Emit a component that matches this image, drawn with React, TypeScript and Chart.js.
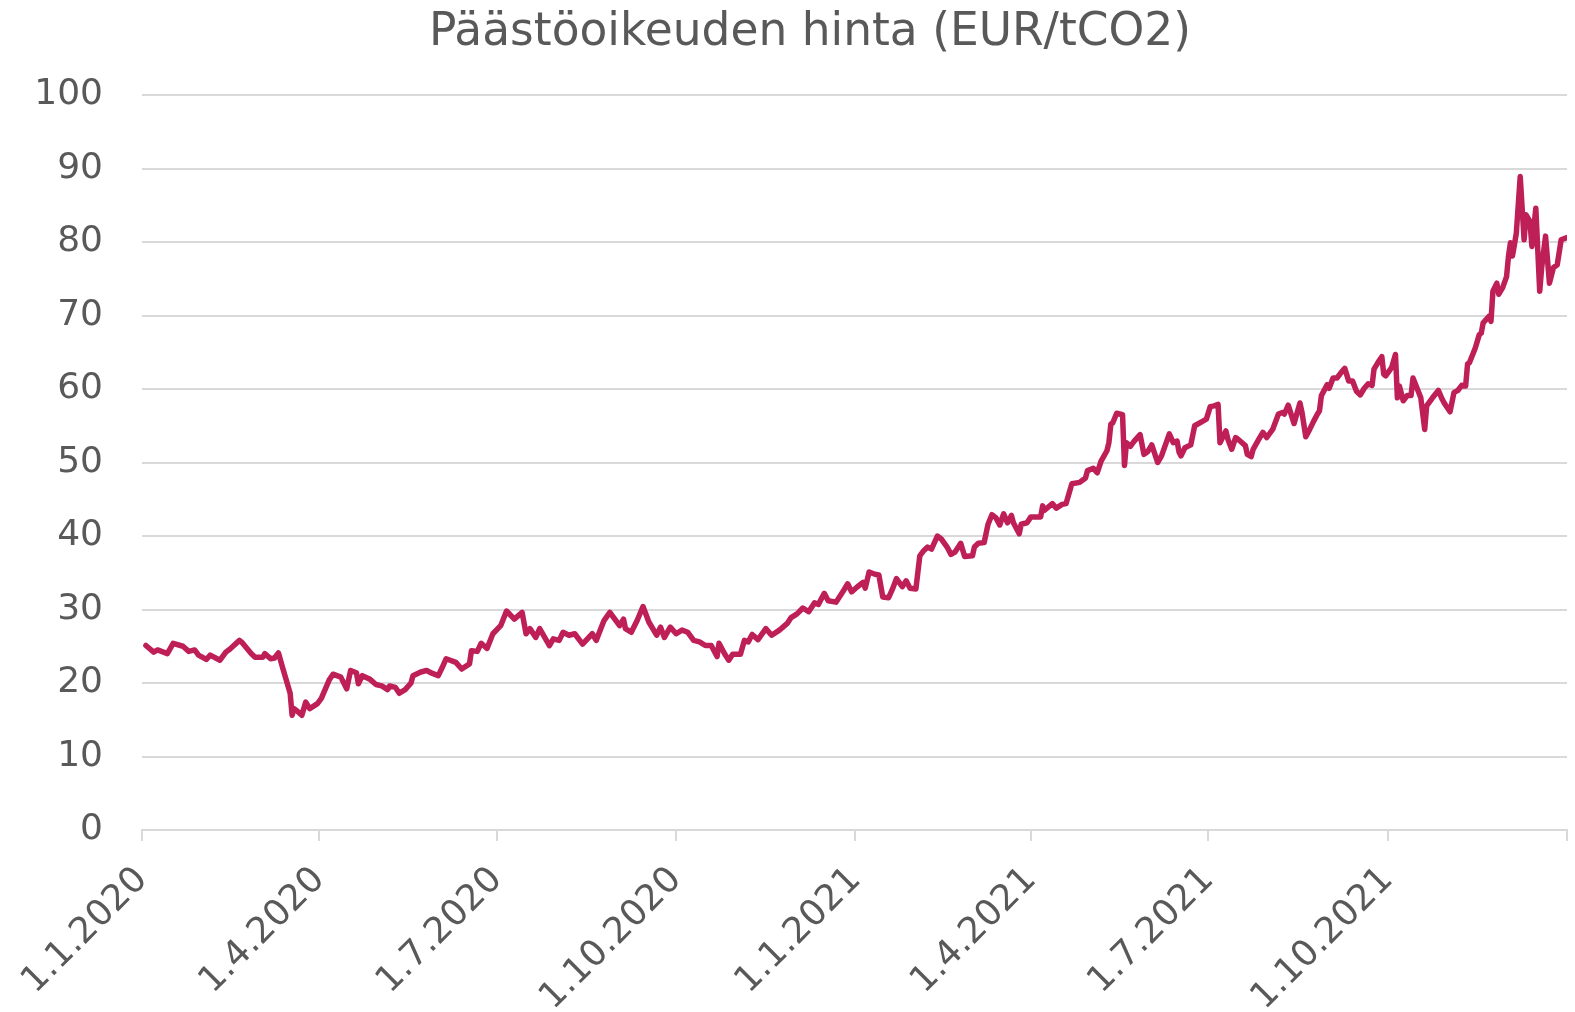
import React, { useEffect, useRef } from "react";
import { Chart, registerables } from "chart.js";

Chart.register(...registerables);

const chartTitle = "Päästöoikeuden hinta (EUR/tCO2)";

// days since 1.1.2020
const dayOffsets = [
  2, 6, 8, 13, 16, 21, 24, 27, 29, 33, 35, 40, 43, 45, 50, 51, 56, 58, 62, 63, 66, 68, 70, 72, 74, 76, 77, 78, 80, 82,
  84, 86, 90, 92, 96, 98, 102, 105, 107, 110, 111, 113, 117, 120, 123, 126, 127, 130, 132, 135, 138, 139, 143, 146, 149,
  152, 154, 156, 161, 164, 168, 169, 172, 174, 177, 180, 184, 187, 191, 195, 197, 199, 202, 204, 209, 211, 214, 216, 219,
  222, 226, 231, 233, 237, 240, 245, 247, 248, 251, 254, 257, 260, 264, 266, 268, 271, 274, 277, 280, 283, 286, 289, 292,
  295, 296, 299, 301, 303, 307, 309, 311, 313, 316, 320, 323, 327, 331, 333, 336, 339, 342, 345, 347, 350, 352, 356, 359,
  362, 364, 367, 370, 371, 373, 376, 378, 380, 383, 385, 387, 390, 392, 394, 397, 399, 401, 403, 405, 408, 410, 413, 415,
  417, 420, 422, 426, 427, 429, 432, 434, 436, 438, 440, 442, 444, 446, 447, 450, 451, 454, 456, 461, 462, 463, 467, 469,
  472, 474, 477, 481, 484, 485, 488, 490, 492, 495, 496, 497, 498, 500, 503, 504, 505, 507, 509, 512, 514, 516, 518, 521,
  523, 527, 529, 531, 532, 533, 535, 538, 540, 544, 546, 548, 550, 552, 553, 556, 557, 559, 561, 563, 566, 567, 569, 570,
  573, 575, 577, 580, 583, 585, 586, 588, 591, 594, 595, 597, 599, 601, 603, 604, 605, 608, 609, 611, 613, 615, 617, 619,
  621, 623, 625, 627, 629, 631, 632, 634, 636, 637, 638, 641, 643, 644, 645, 647, 649, 651, 652, 655, 656, 658, 659, 662,
  665, 667, 668, 671, 673, 675, 677, 679, 680, 681, 684, 686, 687, 688, 691, 692, 693, 695, 696, 698, 700, 701, 702, 703,
  704, 705, 707, 709, 710, 712, 713, 715, 717, 718, 720, 722, 724, 726, 728, 731,
];

const prices = [
  25.1, 24.2, 24.5, 24.0, 25.4, 25.0, 24.3, 24.5, 23.8, 23.2, 23.8, 23.1, 24.2, 24.6, 25.8, 25.6, 24.0, 23.5, 23.5, 24.0,
  23.3, 23.4, 24.1, 22.2, 20.4, 18.6, 15.6, 16.5, 16.1, 15.6, 17.4, 16.5, 17.2, 17.9, 20.4, 21.2, 20.8, 19.2, 21.7, 21.4,
  19.9, 21.0, 20.5, 19.8, 19.6, 19.1, 19.6, 19.4, 18.6, 19.1, 20.0, 21.0, 21.5, 21.7, 21.3, 21.0, 22.1, 23.3, 22.8, 21.9,
  22.6, 24.4, 24.3, 25.4, 24.7, 26.7, 27.8, 29.8, 28.7, 29.6, 26.7, 27.4, 26.2, 27.4, 25.1, 26.0, 25.8, 26.9, 26.5, 26.7,
  25.3, 26.7, 25.8, 28.5, 29.6, 27.8, 28.7, 27.4, 26.9, 28.5, 30.4, 28.3, 26.5, 27.6, 26.2, 27.6, 26.7, 27.2, 26.9, 25.8,
  25.6, 25.1, 25.1, 23.6, 25.4, 23.9, 23.1, 23.9, 23.9, 25.8, 25.6, 26.6, 25.9, 27.4, 26.5, 27.2, 28.1, 28.9, 29.4, 30.2,
  29.7, 30.9, 30.7, 32.2, 31.2, 31.0, 32.2, 33.5, 32.4, 33.1, 33.7, 32.9, 35.1, 34.8, 34.7, 31.7, 31.6, 32.8, 34.2, 33.1,
  33.9, 32.9, 32.8, 37.3, 38.0, 38.5, 38.2, 40.0, 39.6, 38.5, 37.5, 37.8, 39.0, 37.2, 37.3, 38.5, 39.0, 39.1, 41.6, 42.9,
  42.5, 41.5, 43.0, 41.8, 42.8, 41.8, 40.3, 41.6, 41.8, 42.6, 42.6, 44.1, 43.5, 44.4, 43.8, 44.3, 44.4, 47.1, 47.3, 47.9,
  48.9, 49.2, 48.6, 50.2, 51.6, 52.7, 55.2, 55.4, 56.7, 56.5, 49.6, 52.7, 52.2, 52.9, 53.8, 51.1, 51.5, 52.4, 50.0, 50.9,
  53.9, 52.7, 52.9, 51.4, 50.9, 52.0, 52.4, 55.0, 55.6, 55.9, 57.6, 57.7, 57.9, 52.7, 54.3, 53.2, 51.8, 53.4, 53.0, 52.3,
  51.1, 50.8, 51.8, 53.2, 54.1, 53.4, 54.5, 56.6, 56.8, 56.6, 57.8, 55.3, 58.1, 56.9, 53.5, 54.5, 55.6, 56.6, 57.0, 59.1,
  60.6, 60.1, 61.5, 61.5, 62.2, 62.8, 61.1, 61.1, 59.7, 59.2, 60.1, 60.7, 60.5, 62.7, 63.6, 64.4, 62.0, 61.8, 62.9, 64.7,
  58.8, 60.4, 58.4, 59.1, 59.1, 61.5, 59.5, 58.8, 54.5, 57.7, 58.8, 59.8, 58.6, 58.1, 56.9, 59.5, 59.8, 60.5, 60.4, 63.4,
  63.6, 65.6, 67.4, 67.6, 69.0, 69.9, 69.2, 73.3, 74.4, 72.9, 73.8, 75.3, 78.1, 79.9, 78.1, 79.6, 81.2, 88.9, 80.3, 83.7,
  82.8, 79.4, 84.6, 73.3, 76.5, 80.8, 74.4, 76.5, 76.9, 80.3, 80.6,
];

const tickDays = [0, 91, 182, 274, 366, 456, 547, 639, 731];
const tickLabels = ["1.1.2020", "1.4.2020", "1.7.2020", "1.10.2020", "1.1.2021", "1.4.2021", "1.7.2021", "1.10.2021", ""];

const FONT = '"DejaVu Sans", Verdana, sans-serif';
const TEXT = "#595959";
const GRID = "#D9D9D9";
const LINE = "#BE1F57";

const titlePlugin = {
  id: "customTitle",
  afterDraw(chart: any) {
    const ctx = chart.ctx;
    ctx.save();
    ctx.font = `45.5px ${FONT}`;
    ctx.fillStyle = TEXT;
    ctx.textAlign = "center";
    ctx.textBaseline = "alphabetic";
    ctx.fillText(chartTitle, 810, 45);
    ctx.restore();
  },
};

export default function App() {
  const ref = useRef<HTMLCanvasElement>(null);
  useEffect(() => {
    if (!ref.current) return;
    const data = dayOffsets.map((d, i) => ({ x: d, y: prices[i] }));
    const chart = new Chart(ref.current, {
      type: "line",
      data: {
        datasets: [
          {
            data,
            borderColor: LINE,
            borderWidth: 5.5,
            pointRadius: 0,
            tension: 0,
            fill: false,
            borderJoinStyle: "round",
            borderCapStyle: "round",
          },
        ],
      },
      options: {
        animation: false,
        responsive: false,
        devicePixelRatio: 1,
        layout: { padding: { top: 95, right: 8, left: 0, bottom: 0 } },
        plugins: { legend: { display: false }, tooltip: { enabled: false }, title: { display: false } },
        scales: {
          x: {
            type: "linear",
            min: 0,
            max: 731,
            afterBuildTicks: (scale: any) => {
              scale.ticks = tickDays.map((v) => ({ value: v }));
            },
            afterFit: (scale: any) => {
              scale.height = 182;
              scale.paddingRight = 0;
              scale.paddingLeft = 0;
            },
            ticks: {
              autoSkip: false,
              maxRotation: 45,
              minRotation: 45,
              padding: 18,
              color: TEXT,
              font: { family: FONT, size: 36 },
              callback: (_v: any, i: number) => tickLabels[i],
            },
            grid: { drawOnChartArea: false, drawTicks: true, tickLength: 11, color: GRID, lineWidth: 2 },
            border: { color: GRID, width: 2 },
          },
          y: {
            min: 0,
            max: 100,
            afterFit: (scale: any) => {
              scale.width = 142;
            },
            ticks: { stepSize: 10, padding: 39, color: TEXT, font: { family: FONT, size: 36 } },
            grid: { color: GRID, lineWidth: 2, drawTicks: false },
            border: { display: false },
          },
        },
      },
      plugins: [titlePlugin],
    });
    return () => chart.destroy();
  }, []);
  return (
    <div style={{ position: "absolute", left: 0, top: 0, width: 1575, height: 1012, background: "#fff" }}>
      <canvas ref={ref} width={1575} height={1012} style={{ display: "block" }} />
    </div>
  );
}
